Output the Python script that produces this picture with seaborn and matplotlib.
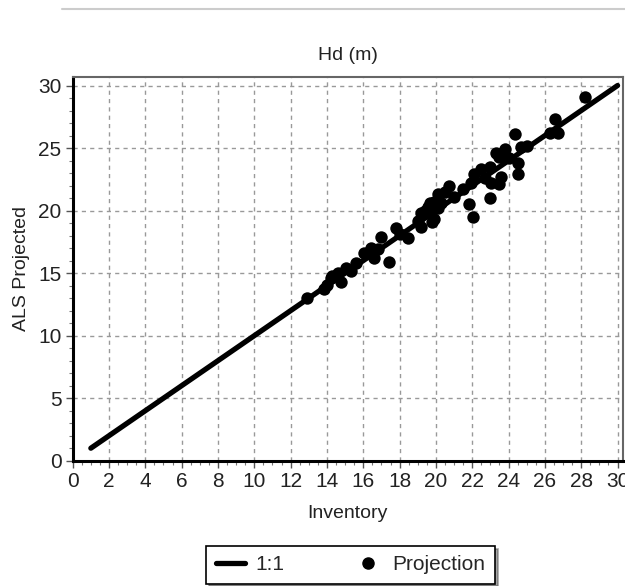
import matplotlib
matplotlib.use("Agg")
import matplotlib.pyplot as plt
from matplotlib.lines import Line2D
from matplotlib.ticker import MultipleLocator
import numpy as np
import pandas as pd
import seaborn as sns

# Inventory vs. ALS-projected dominant height (m)
inventory = [12.9, 13.85, 14.0, 14.2, 14.3, 14.6, 14.8, 15.05, 15.3, 15.6,
             16.05, 16.4, 16.6, 16.8, 17.4, 17.0, 17.8, 18.0, 18.45, 19.2,
             19.0, 19.8, 19.9, 19.55, 19.2, 19.4, 19.65, 20.1, 19.9, 20.1,
             20.3, 20.5, 20.7, 21.0, 21.5, 21.8, 22.05, 21.95, 22.1, 22.5,
             22.7, 22.96, 23.05, 22.96, 23.5, 23.6, 23.5, 23.8, 23.3, 24.0,
             24.5, 24.5, 24.7, 24.35, 25.0, 26.3, 26.55, 26.7, 28.2]
projected = [13.0, 13.7, 14.05, 14.6, 14.8, 15.0, 14.3, 15.4, 15.2, 15.8,
             16.6, 17.0, 16.2, 16.9, 15.9, 17.9, 18.6, 18.1, 17.8, 18.7,
             19.2, 19.1, 19.3, 20.3, 19.8, 20.0, 20.6, 20.2, 20.7, 21.3,
             20.6, 21.5, 22.0, 21.1, 21.7, 20.5, 19.5, 22.2, 22.9, 23.3,
             22.6, 23.5, 22.2, 21.0, 22.1, 22.7, 24.3, 24.9, 24.6, 24.2,
             23.8, 22.9, 25.1, 26.1, 25.2, 26.2, 27.3, 26.2, 29.1]

# 1:1 reference line end points
one_to_one = [1.0, 30.0]

sns.set_theme(style="white")
fam = ["Liberation Sans", "DejaVu Sans"]
plt.rcParams["font.family"] = fam

fig = plt.figure(figsize=(6.25, 5.86), dpi=100)
ax = fig.add_axes([0.1163, 0.2138, 0.8805, 0.6552])

line_df = pd.DataFrame({"x": one_to_one, "y": one_to_one})
pts_df = pd.DataFrame({"Inventory": inventory, "ALS Projected": projected})

sns.lineplot(data=line_df, x="x", y="y", ax=ax, color="black", linewidth=3.8,
             solid_capstyle="round", label="1:1", zorder=3)
sns.scatterplot(data=pts_df, x="Inventory", y="ALS Projected", ax=ax,
                color="black", s=80, marker="o", edgecolor="black",
                linewidth=0, label="Projection", zorder=4)

ax.set_xlim(0, 30.3)
ax.set_ylim(0, 30.7)
ax.xaxis.set_major_locator(MultipleLocator(2))
ax.xaxis.set_minor_locator(MultipleLocator(0.5))
ax.yaxis.set_major_locator(MultipleLocator(5))
ax.yaxis.set_minor_locator(MultipleLocator(1))

ax.grid(True, which="major", linestyle=(0, (3, 3)), color="#999999",
        linewidth=1.0)
ax.set_axisbelow(True)

ax.tick_params(axis="both", which="major", direction="out", length=5,
               width=1, color="#555555", labelsize=15, pad=3,
               bottom=True, left=True)
ax.tick_params(axis="both", which="minor", direction="out", length=3,
               width=0.8, color="#777777", bottom=True, left=True)
for lbl in ax.get_xticklabels() + ax.get_yticklabels():
    lbl.set_color("#222222")

for side in ("left", "bottom"):
    ax.spines[side].set_color("black")
    ax.spines[side].set_linewidth(2.2)
for side in ("top", "right"):
    ax.spines[side].set_color("#666666")
    ax.spines[side].set_linewidth(1.5)

ax.set_xlabel("Inventory", fontsize=14, color="#222222", labelpad=10)
ax.set_ylabel("ALS Projected", fontsize=14, color="#222222", labelpad=6)
ax.set_title("Hd (m)", fontsize=14, color="#222222", pad=12)

handles = [Line2D([0], [0], color="black", linewidth=3.8,
                  solid_capstyle="round"),
           Line2D([0], [0], color="black", marker="o", linestyle="none",
                  markersize=8)]
ax.legend(handles, ["1:1", "Projection"], loc="upper center",
          bbox_to_anchor=(0.505, -0.222), borderaxespad=0, ncol=2,
          frameon=True, fancybox=False, shadow=True, edgecolor="black",
          fontsize=15, handlelength=1.4, columnspacing=3.3, borderpad=0.45,
          handletextpad=0.5)
leg = ax.get_legend()
leg.get_frame().set_linewidth(1.2)

# thin separator rule across the top of the figure
fig.add_artist(Line2D([62 / 625, 1.0], [1 - 9 / 586, 1 - 9 / 586],
                      color="#cccccc", linewidth=1.5,
                      transform=fig.transFigure))

fig.savefig("out.png", dpi=100, facecolor="white")
